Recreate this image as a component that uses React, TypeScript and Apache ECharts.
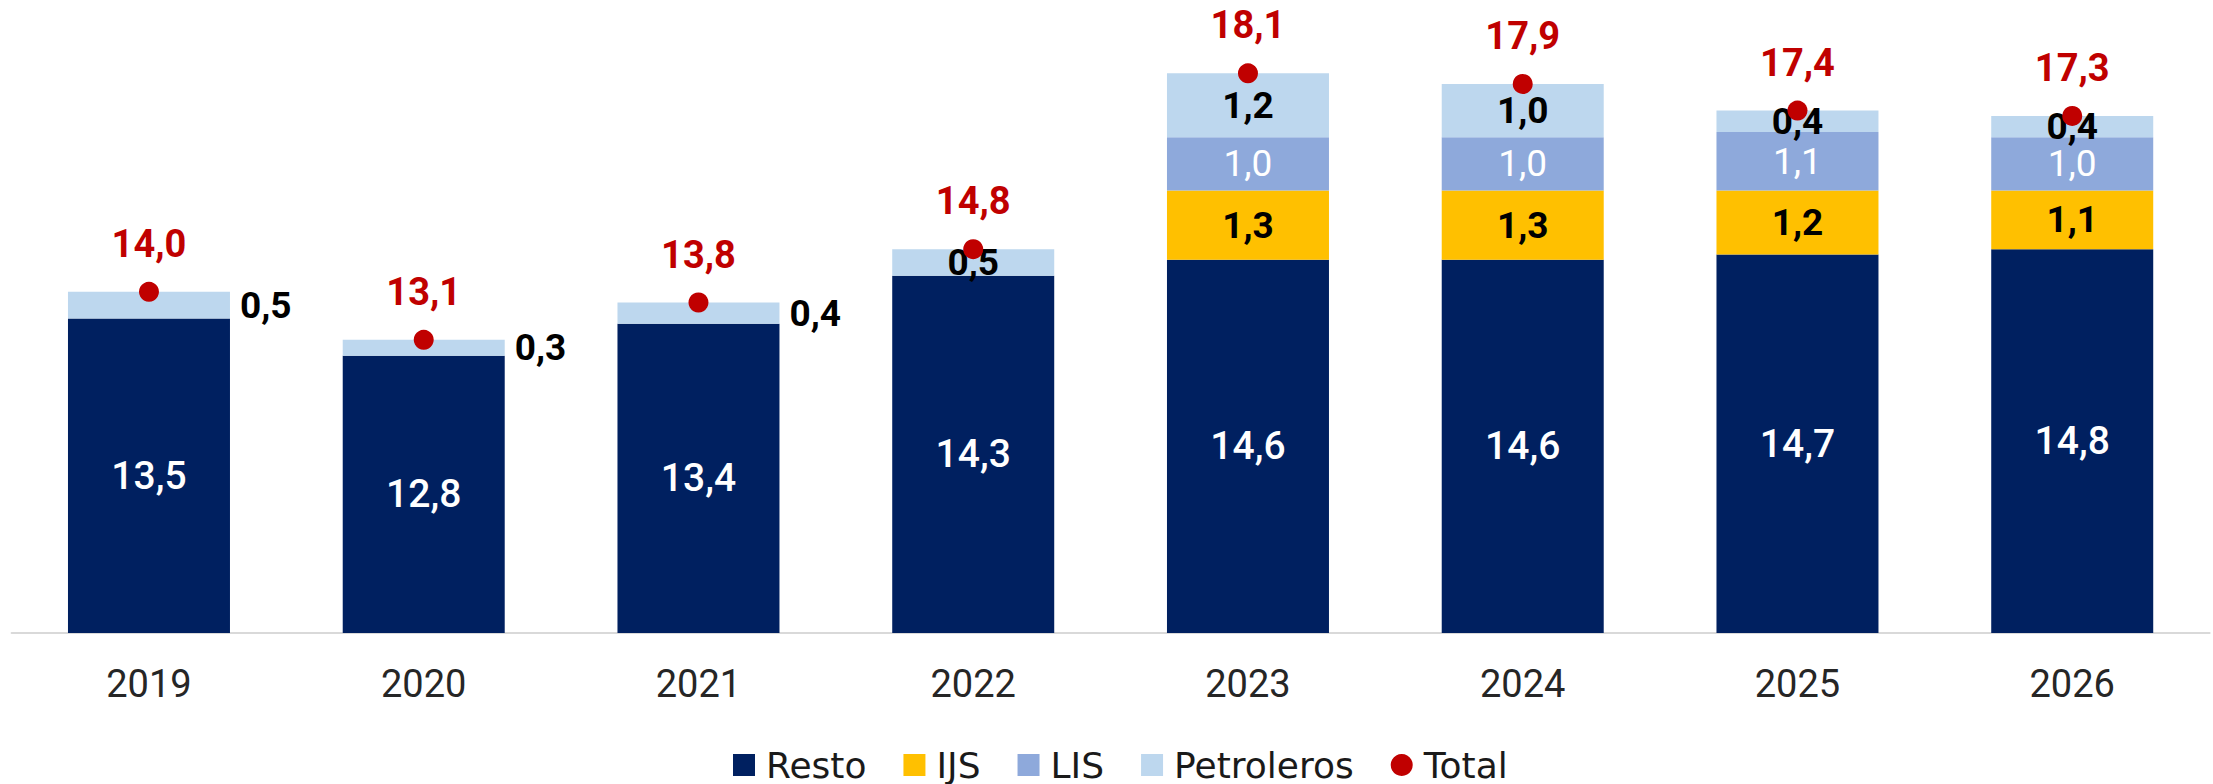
import React, { useEffect, useRef } from "react";
import * as echarts from "echarts";

const years = ["2019", "2020", "2021", "2022", "2023", "2024", "2025", "2026"];
const resto = [13.5, 12.8, 13.4, 14.3, 14.6, 14.6, 14.7, 14.8];
const ijs = [0, 0, 0, 0, 1.3, 1.3, 1.2, 1.1];
const lis = [0, 0, 0, 0, 1.0, 1.0, 1.1, 1.0];
const petroleros = [0.5, 0.3, 0.4, 0.5, 1.2, 1.0, 0.4, 0.4];
const totals = [14.0, 13.1, 13.8, 14.8, 18.1, 17.9, 17.4, 17.3];
const petroOutside = [true, true, true, false, false, false, false, false];

const fmt = (v: number) => (v ? v.toFixed(1).replace(".", ",") : "");
const LABEL_FONT = "Roboto";
const AXIS_FONT = "Roboto";
const LEGEND_FONT = "DejaVu Sans";

export default function App() {
  const ref = useRef<HTMLDivElement>(null);
  useEffect(() => {
    if (!ref.current) return;
    const chart = echarts.init(ref.current, undefined, { renderer: "svg" });
    const labelFmt = (p: any) => fmt(p.value as number);
    chart.setOption({
      animation: false,
      backgroundColor: "#ffffff",
      grid: { left: 11.6, right: 3.4, top: 20, bottom: 151, containLabel: false },
      legend: {
        left: 728,
        top: 742,
        itemWidth: 22,
        itemHeight: 22,
        itemGap: 37,
        textStyle: {
          fontFamily: LEGEND_FONT,
          fontSize: 36,
          color: "#1a1a1a",
          padding: [0, 0, 0, 6],
        },
        data: [
          { name: "Resto", icon: "rect" },
          { name: "IJS", icon: "rect" },
          { name: "LIS", icon: "rect" },
          { name: "Petroleros", icon: "rect" },
          { name: "Total", icon: "circle" },
        ],
      },
      xAxis: {
        type: "category",
        data: years,
        axisTick: { show: false },
        axisLine: { lineStyle: { color: "#d9d9d9", width: 2 } },
        axisLabel: {
          fontFamily: AXIS_FONT,
          fontSize: 38,
          color: "#262626",
          margin: 32,
        },
      },
      yAxis: {
        type: "value",
        min: 7.6,
        max: 19.1,
        show: false,
        splitLine: { show: false },
      },
      series: [
        {
          name: "Resto",
          type: "bar",
          stack: "s",
          barWidth: 162,
          clip: true,
          itemStyle: { color: "#002060" },
          label: {
            show: true,
            position: "inside",
            formatter: labelFmt,
            color: "#ffffff",
            fontFamily: LABEL_FONT,
            fontSize: 39,
            fontWeight: 500,
          },
          data: resto,
        },
        {
          name: "IJS",
          type: "bar",
          stack: "s",
          barWidth: 162,
          itemStyle: { color: "#FFC000" },
          label: {
            show: true,
            position: "inside",
            formatter: labelFmt,
            color: "#000000",
            fontFamily: LABEL_FONT,
            fontSize: 37,
            fontWeight: "bold",
          },
          data: ijs,
        },
        {
          name: "LIS",
          type: "bar",
          stack: "s",
          barWidth: 162,
          itemStyle: { color: "#8EA9DB" },
          label: {
            show: true,
            position: "inside",
            formatter: labelFmt,
            color: "#ffffff",
            fontFamily: LABEL_FONT,
            fontSize: 37,
            fontWeight: "normal",
          },
          data: lis,
        },
        {
          name: "Petroleros",
          type: "bar",
          stack: "s",
          barWidth: 162,
          itemStyle: { color: "#BDD7EE" },
          label: {
            show: true,
            position: "inside",
            formatter: labelFmt,
            color: "#000000",
            fontFamily: LABEL_FONT,
            fontSize: 37,
            fontWeight: "bold",
          },
          data: petroleros.map((v, i) =>
            petroOutside[i]
              ? { value: v, label: { position: "right", distance: 10 } }
              : { value: v }
          ),
        },
        {
          name: "Total",
          type: "scatter",
          symbol: "circle",
          symbolSize: 20,
          z: 5,
          itemStyle: { color: "#C00000", opacity: 1 },
          label: {
            show: true,
            position: "top",
            distance: 19,
            formatter: labelFmt,
            color: "#C00000",
            fontFamily: LABEL_FONT,
            fontSize: 38,
            fontWeight: "bold",
          },
          data: totals,
        },
      ],
    });
    return () => chart.dispose();
  }, []);
  return (
    <div
      ref={ref}
      style={{ position: "absolute", left: 0, top: 0, width: 2213, height: 784 }}
    />
  );
}
